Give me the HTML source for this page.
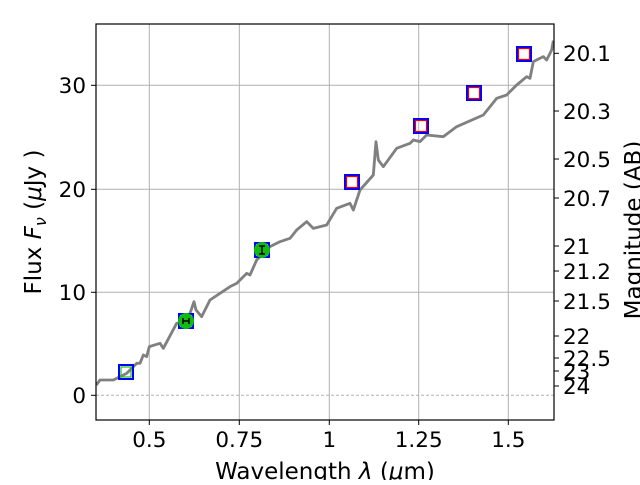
<!DOCTYPE html>
<html><head><style>
body{margin:0;background:#fff;}
svg text{font-family:"DejaVu Sans","Liberation Sans",sans-serif;fill:#000;}
</style></head><body>
<svg width="640" height="480" xmlns="http://www.w3.org/2000/svg">
<rect width="640" height="480" fill="#fff"/>
<g stroke="#b0b0b0" stroke-width="1">
<line x1="149.3" y1="24" x2="149.3" y2="420"/>
<line x1="239.3" y1="24" x2="239.3" y2="420"/>
<line x1="329.3" y1="24" x2="329.3" y2="420"/>
<line x1="418.7" y1="24" x2="418.7" y2="420"/>
<line x1="508.3" y1="24" x2="508.3" y2="420"/>
<line x1="96" y1="85.3" x2="554" y2="85.3"/>
<line x1="96" y1="189.3" x2="554" y2="189.3"/>
<line x1="96" y1="292.3" x2="554" y2="292.3"/>
<line x1="96" y1="395.3" x2="554" y2="395.3" stroke-dasharray="3,2"/>
</g>
<g transform="translate(90,20) scale(0.33333)">
<polyline fill="none" stroke="#808080" stroke-width="8.5" stroke-linejoin="round" points="19,1095 30,1080 70,1080 110,1060 140,1030 150,1030 160,1005 170,1010 178,980 210,970 220,985 260,910 280,905 300,880 312,845 318,870 335,890 360,840 420,800 440,790 470,760 480,765 500,720 540,680 570,665 600,655 620,630 650,605 670,625 710,615 740,565 780,550 790,570 800,540 810,510 850,465 858,365 865,420 880,440 920,385 960,370 970,360 990,365 1010,345 1060,350 1100,320 1180,285 1220,235 1250,225 1280,195 1310,170 1320,175 1330,125 1360,110 1370,120 1385,90 1390,62"/>
</g>
<g fill="none" stroke-width="2">
<rect x="119" y="365" width="14" height="14" stroke="#0000ff"/>
<rect x="121" y="367" width="10" height="10" stroke="#22bb22" stroke-width="1.2"/>
<rect x="179" y="314" width="14" height="14" stroke="#0000ff"/>
<rect x="255" y="243" width="14" height="14" stroke="#0000ff"/>
<rect x="345" y="175" width="14" height="14" stroke="#0000ff"/>
<rect x="346.5" y="176.5" width="11" height="11" stroke="#ee0000" stroke-width="1.2"/>
<rect x="414" y="119" width="14" height="14" stroke="#0000ff"/>
<rect x="415.5" y="120.5" width="11" height="11" stroke="#ee0000" stroke-width="1.2"/>
<rect x="467" y="86" width="14" height="14" stroke="#0000ff"/>
<rect x="468.5" y="87.5" width="11" height="11" stroke="#ee0000" stroke-width="1.2"/>
<rect x="517" y="47" width="14" height="14" stroke="#0000ff"/>
<rect x="518.5" y="48.5" width="11" height="11" stroke="#ee0000" stroke-width="1.2"/>
</g>
<circle cx="186" cy="321" r="8" fill="#11bb11"/>
<circle cx="262" cy="250" r="8" fill="#11bb11"/>
<g stroke="#000" stroke-width="1.5">
<line x1="183" y1="321" x2="189" y2="321"/><line x1="183" y1="318" x2="183" y2="324"/><line x1="189" y1="318" x2="189" y2="324"/>
<line x1="262" y1="246" x2="262" y2="254"/><line x1="259" y1="246" x2="265" y2="246"/><line x1="259" y1="254" x2="265" y2="254"/>
</g>
<rect x="96" y="24" width="458" height="396" fill="none" stroke="#000" stroke-width="1.2"/>
<g stroke="#000" stroke-width="1">
<line x1="149.3" y1="420" x2="149.3" y2="425"/><line x1="239.3" y1="420" x2="239.3" y2="425"/><line x1="329.3" y1="420" x2="329.3" y2="425"/><line x1="418.7" y1="420" x2="418.7" y2="425"/><line x1="508.3" y1="420" x2="508.3" y2="425"/>
<line x1="91" y1="85.3" x2="96" y2="85.3"/><line x1="91" y1="189.3" x2="96" y2="189.3"/><line x1="91" y1="292.3" x2="96" y2="292.3"/><line x1="91" y1="395.3" x2="96" y2="395.3"/>
<line x1="554" y1="53.3" x2="559" y2="53.3"/><line x1="554" y1="111" x2="559" y2="111"/><line x1="554" y1="159" x2="559" y2="159"/><line x1="554" y1="198" x2="559" y2="198"/><line x1="554" y1="246" x2="559" y2="246"/><line x1="554" y1="271" x2="559" y2="271"/><line x1="554" y1="301" x2="559" y2="301"/><line x1="554" y1="336" x2="559" y2="336"/><line x1="554" y1="358" x2="559" y2="358"/><line x1="554" y1="371" x2="559" y2="371"/><line x1="554" y1="386" x2="559" y2="386"/>
</g>
<g font-size="21.5" text-anchor="middle">
<text x="149.3" y="447">0.5</text><text x="239.3" y="447">0.75</text><text x="329.3" y="447">1</text><text x="418.7" y="447">1.25</text><text x="508.3" y="447">1.5</text>
</g>
<g font-size="21.5" text-anchor="end">
<text x="86" y="93">30</text><text x="86" y="197">20</text><text x="86" y="300">10</text><text x="86" y="403">0</text>
</g>
<g font-size="21.5">
<text x="563" y="61">20.1</text><text x="563" y="119">20.3</text><text x="563" y="167">20.5</text><text x="563" y="206">20.7</text><text x="563" y="254">21</text><text x="563" y="279">21.2</text><text x="563" y="309">21.5</text><text x="563" y="344">22</text><text x="563" y="366">22.5</text><text x="563" y="379">23</text><text x="563" y="394">24</text>
</g>
<text x="325" y="479" font-size="23" text-anchor="middle">Wavelength  <tspan font-style="italic">λ</tspan> (<tspan font-style="italic">μ</tspan>m)</text>
<text transform="translate(41,222) rotate(-90)" font-size="23" text-anchor="middle">Flux  <tspan font-style="italic">F</tspan><tspan font-style="italic" font-size="16" dy="5">ν</tspan><tspan dy="-5">  (</tspan><tspan font-style="italic">μ</tspan>Jy )</text>
<text transform="translate(641,230) rotate(-90)" font-size="23" text-anchor="middle">Magnitude (AB)</text>
</svg>
</body></html>
